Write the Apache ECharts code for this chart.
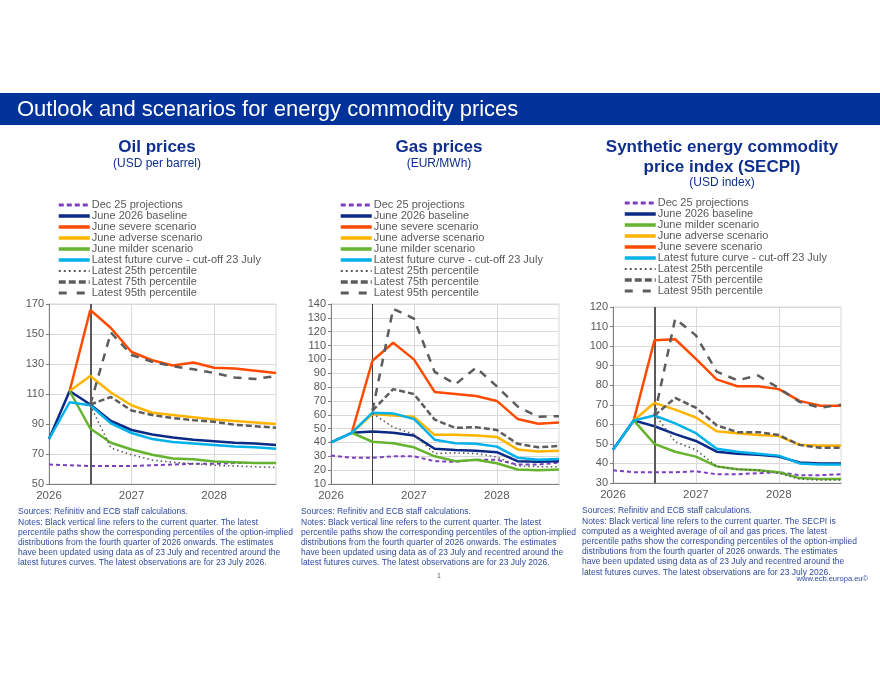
<!DOCTYPE html>
<html>
<head>
<meta charset="utf-8">
<script src="https://cdn.jsdelivr.net/npm/echarts@6/dist/echarts.min.js"></script>
<style>
  html, body { margin: 0; padding: 0; background: #fff; }
  #chart { width: 880px; height: 680px; }
</style>
</head>
<body>
<div id="chart"></div>
<script>
// quarterly points, 2026Q1 .. 2028Q4
const quarters = ['2026Q1', '2026Q2', '2026Q3', '2026Q4', '2027Q1', '2027Q2', '2027Q3', '2027Q4',
  '2028Q1', '2028Q2', '2028Q3', '2028Q4'];
const currentQuarter = '2026Q3';

// Oil prices (USD per barrel)
const oilDec25 = [63, 62.5, 62, 62, 62, 62.5, 63, 63.5, 63.5, 64, 64, 64];
const oilBase = [80, 112, 103, 92, 86, 83, 81, 79.5, 78.5, 77.5, 77, 76];
const oilSevere = [null, 112, 166, 154, 138, 132.5, 129, 131, 127.5, 127, 125.5, 124];
const oilAdverse = [null, 112, 122, 111, 102.5, 97.5, 96, 94.5, 93, 92, 91, 90];
const oilMilder = [null, 112, 87, 77.5, 73, 69.5, 67, 66.5, 65, 64.5, 64, 64];
const oilFuture = [80, 104.5, 102.5, 90.5, 84, 80, 78, 77, 76, 75, 74.5, 73.5];
const oilP25 = [null, null, 102.5, 74, 69.5, 66, 64.5, 63.5, 62.5, 62, 61.5, 61];
const oilP75 = [null, null, 103, 108, 99, 96, 94, 92.5, 91.5, 89.5, 88.5, 87.5];
const oilP95 = [null, null, 103, 151, 136, 131.5, 128.5, 126.5, 124, 121, 120, 122];

// Gas prices (EUR/MWh)
const gasDec25 = [30.5, 29, 29, 30, 30, 26.5, 26, 27.5, 27.5, 24, 24, 25.5];
const gasBase = [40, 47, 48, 47, 45, 35.5, 34.5, 34, 33, 26.5, 26, 26.5];
const gasSevere = [null, 47, 99, 112, 100, 76.5, 75, 73.5, 70, 57, 53.5, 54.5];
const gasAdverse = [null, 47, 60.5, 59.5, 58.5, 45.5, 45.5, 45, 44, 35, 33.5, 34];
const gasMilder = [null, 47, 40.5, 39.5, 36.5, 30, 26.5, 27.5, 25, 20.5, 20, 20.5];
const gasFuture = [40, 47, 61.5, 61, 57, 42, 39.5, 39, 37, 29, 27.5, 28];
const gasP25 = [null, null, 61, 51, 46, 32, 32.5, 32, 29.5, 23, 22.5, 22.5];
const gasP75 = [null, null, 63, 78.5, 75, 56.5, 50.5, 51, 49, 39, 36.5, 37.5];
const gasP95 = [null, null, 63, 136.5, 129.5, 91, 82, 94, 80.5, 66, 58.5, 59];

// SECPI (USD index)
const secDec25 = [36.5, 35.5, 35.5, 35.5, 36, 34.5, 34.5, 35, 35.5, 34, 34, 34.5];
const secBase = [47, 62, 59, 55, 51.5, 46, 45, 44.5, 43.5, 40.5, 40, 40];
const secSevere = [null, 62, 103, 103.5, 93.5, 83, 79.5, 79.5, 78, 72, 69.5, 69.5];
const secAdverse = [null, 62, 71, 67.5, 63.5, 56.5, 55.5, 54.5, 54, 49.5, 49, 49];
const secMilder = [null, 62, 50, 46, 43.5, 38.5, 37, 36.5, 35.5, 32.5, 32, 32];
const secFuture = [47, 62, 64.5, 60.5, 55.5, 47.5, 46, 45, 44, 40, 39.5, 39.5];
const secP25 = [null, null, 65.5, 51, 47, 38.5, 37, 36.5, 35, 32, 31.5, 31.5];
const secP75 = [null, null, 64.5, 73.5, 68.5, 59.5, 56, 56, 54.5, 49.5, 48, 48];
const secP95 = [null, null, 64.5, 114, 105.5, 87, 82.5, 85, 78.5, 71.5, 68.5, 70];

const N_DEC = 'Dec 25 projections';
const N_BASE = 'June 2026 baseline';
const N_SEV = 'June severe scenario';
const N_ADV = 'June adverse scenario';
const N_MILD = 'June milder scenario';
const N_FUT = 'Latest future curve - cut-off 23 July';
const N_P25 = 'Latest 25th percentile';
const N_P75 = 'Latest 75th percentile';
const N_P95 = 'Latest 95th percentile';

const styles = {};
styles[N_DEC] = { color: '#7b3fc0', width: 2, type: [4, 3], legendWidth: 3, legendType: [5, 3] };
styles[N_BASE] = { color: '#0b2a85', width: 2.5, type: 'solid', legendWidth: 3.5 };
styles[N_SEV] = { color: '#ff4b00', width: 2.5, type: 'solid', legendWidth: 3.5 };
styles[N_ADV] = { color: '#ffb400', width: 2.5, type: 'solid', legendWidth: 3.5 };
styles[N_MILD] = { color: '#65b32e', width: 2.5, type: 'solid', legendWidth: 3.5 };
styles[N_FUT] = { color: '#00b1ea', width: 2.5, type: 'solid', legendWidth: 3.5 };
styles[N_P25] = { color: '#5c5c5c', width: 1.6, type: [1.5, 3], legendWidth: 2, legendType: [2, 3] };
styles[N_P75] = { color: '#5c5c5c', width: 2.5, type: [6, 3], legendWidth: 3.5, legendType: [7, 3] };
styles[N_P95] = { color: '#5c5c5c', width: 2.5, type: [8, 7], legendWidth: 3, legendType: [8, 10] };

const FONT = '"Liberation Sans", Arial, sans-serif';
const GREY = '#595959';
const BLUE = '#0f2f8f';
const NOTE = '#2f4aa0';

const panels = [
  {
    grid: { left: 49, top: 304, width: 227, height: 180 },
    y: { min: 50, max: 170, interval: 20 },
    vline: { width: 2, color: '#5a5a5a' },
    legendPos: { left: 57, top: 199.5 },
    order: [N_DEC, N_BASE, N_SEV, N_ADV, N_MILD, N_FUT, N_P25, N_P75, N_P95],
    data: [
      [N_DEC, oilDec25], [N_BASE, oilBase], [N_SEV, oilSevere], [N_ADV, oilAdverse],
      [N_MILD, oilMilder], [N_FUT, oilFuture], [N_P25, oilP25], [N_P75, oilP75], [N_P95, oilP95]
    ]
  },
  {
    grid: { left: 331, top: 304, width: 228, height: 180 },
    y: { min: 10, max: 140, interval: 10 },
    vline: { width: 1, color: '#404040' },
    legendPos: { left: 339, top: 199.5 },
    order: [N_DEC, N_BASE, N_SEV, N_ADV, N_MILD, N_FUT, N_P25, N_P75, N_P95],
    data: [
      [N_DEC, gasDec25], [N_BASE, gasBase], [N_SEV, gasSevere], [N_ADV, gasAdverse],
      [N_MILD, gasMilder], [N_FUT, gasFuture], [N_P25, gasP25], [N_P75, gasP75], [N_P95, gasP95]
    ]
  },
  {
    grid: { left: 613, top: 307, width: 228, height: 176 },
    y: { min: 30, max: 120, interval: 10 },
    vline: { width: 2, color: '#5a5a5a' },
    legendPos: { left: 623, top: 197.5 },
    order: [N_DEC, N_BASE, N_MILD, N_ADV, N_SEV, N_FUT, N_P25, N_P75, N_P95],
    data: [
      [N_DEC, secDec25], [N_BASE, secBase], [N_SEV, secSevere], [N_ADV, secAdverse],
      [N_MILD, secMilder], [N_FUT, secFuture], [N_P25, secP25], [N_P75, secP75], [N_P95, secP95]
    ]
  }
];

const grids = [], xAxes = [], yAxes = [], legends = [], series = [];

panels.forEach((p, i) => {
  grids.push(Object.assign({ show: true, borderColor: '#d9d9d9', borderWidth: 1, backgroundColor: 'transparent' }, p.grid));
  xAxes.push({
    type: 'category', gridIndex: i, data: quarters, boundaryGap: false,
    axisLine: { lineStyle: { color: '#7f7f7f', width: 1 } },
    axisTick: { show: false },
    axisLabel: {
      interval: 3, color: GREY, fontSize: 11.5, fontFamily: FONT, margin: 6,
      formatter: v => v.slice(0, 4)
    },
    splitLine: { show: true, interval: 3, lineStyle: { color: '#d9d9d9', width: 1 } }
  });
  yAxes.push({
    type: 'value', gridIndex: i, min: p.y.min, max: p.y.max, interval: p.y.interval,
    axisLine: { show: true, lineStyle: { color: '#7f7f7f', width: 1 } },
    axisTick: { show: true, length: 3, lineStyle: { color: '#7f7f7f' } },
    axisLabel: { color: GREY, fontSize: 11, fontFamily: FONT, margin: 5 },
    splitLine: { show: true, lineStyle: { color: '#d9d9d9', width: 1 } }
  });
  legends.push({
    orient: 'vertical', left: p.legendPos.left, top: p.legendPos.top,
    itemWidth: 31, itemHeight: 11, itemGap: 0, padding: 0,
    data: p.order.map(n => ({
      name: n,
      lineStyle: { width: styles[n].legendWidth, type: styles[n].legendType || 'solid', color: styles[n].color }
    })),
    itemStyle: { opacity: 0 },
    textStyle: { color: GREY, fontSize: 11, fontFamily: FONT, lineHeight: 11, padding: [0, 0, 0, -3] },
    selectedMode: false
  });
  p.data.forEach(([name, values], k) => {
    const st = styles[name];
    const s = {
      name: name, type: 'line', xAxisIndex: i, yAxisIndex: i,
      data: values, symbol: 'none', connectNulls: false,
      lineStyle: { color: st.color, width: st.width, type: st.type },
      itemStyle: { color: st.color },
      z: 3 + k
    };
    if (k === 0) {
      s.markLine = {
        silent: true, symbol: 'none', animation: false,
        label: { show: false },
        lineStyle: { color: p.vline.color, width: p.vline.width, type: 'solid' },
        data: [{ xAxis: currentQuarter }]
      };
    }
    series.push(s);
  });
});

const notesCommon = [
  'Sources: Refinitiv and ECB staff calculations.',
  'Notes: Black vertical line refers to the current quarter. The latest',
  'percentile paths show the corresponding percentiles of the option-implied',
  'distributions from the fourth quarter of 2026 onwards. The estimates',
  'have been updated using data as of 23 July and recentred around the',
  'latest futures curves. The latest observations are for 23 July 2026.'
];
const notesSecpi = [
  'Sources: Refinitiv and ECB staff calculations.',
  'Notes: Black vertical line refers to the current quarter. The SECPI is',
  'computed as a weighted average of oil and gas prices. The latest',
  'percentile paths show the corresponding percentiles of the option-implied',
  'distributions from the fourth quarter of 2026 onwards. The estimates',
  'have been updated using data as of 23 July and recentred around the',
  'latest futures curves. The latest observations are for 23 July 2026.'
];

function txt(x, y, text, size, color, opts) {
  return {
    type: 'text', x: x, y: y, silent: true,
    style: Object.assign({
      text: text, fill: color, fontSize: size, fontFamily: FONT,
      textAlign: 'left', textVerticalAlign: 'middle'
    }, opts || {})
  };
}

const graphics = [
  { type: 'rect', silent: true, shape: { x: 0, y: 93, width: 880, height: 32 }, style: { fill: '#003299' } },
  txt(17, 109.5, 'Outlook and scenarios for energy commodity prices', 22, '#ffffff'),
  txt(157, 147, 'Oil prices', 17, BLUE, { textAlign: 'center', fontWeight: 'bold' }),
  txt(157, 164, '(USD per barrel)', 12, BLUE, { textAlign: 'center' }),
  txt(439, 147, 'Gas prices', 17, BLUE, { textAlign: 'center', fontWeight: 'bold' }),
  txt(439, 163.5, '(EUR/MWh)', 12, BLUE, { textAlign: 'center' }),
  txt(722, 147, 'Synthetic energy commodity', 17, BLUE, { textAlign: 'center', fontWeight: 'bold' }),
  txt(722, 167, 'price index (SECPI)', 17, BLUE, { textAlign: 'center', fontWeight: 'bold' }),
  txt(722, 182.5, '(USD index)', 12, BLUE, { textAlign: 'center' }),
  {
    type: 'text', left: 18, top: 507, silent: true,
    style: { text: notesCommon.join('\n'), fill: NOTE, fontSize: 8.5, fontFamily: FONT, lineHeight: 10.2 }
  },
  {
    type: 'text', left: 301, top: 507, silent: true,
    style: { text: notesCommon.join('\n'), fill: NOTE, fontSize: 8.5, fontFamily: FONT, lineHeight: 10.2 }
  },
  {
    type: 'text', left: 582, top: 506, silent: true,
    style: { text: notesSecpi.join('\n'), fill: NOTE, fontSize: 8.5, fontFamily: FONT, lineHeight: 10.2 }
  },
  txt(439, 576, '1', 7, GREY, { textAlign: 'center' }),
  txt(868, 579, 'www.ecb.europa.eu\u00a9', 7.5, NOTE, { textAlign: 'right' })
];

const chart = echarts.init(document.getElementById('chart'));
chart.setOption({
  animation: false,
  backgroundColor: '#ffffff',
  grid: grids,
  xAxis: xAxes,
  yAxis: yAxes,
  legend: legends,
  series: series,
  graphic: graphics
});
</script>
</body>
</html>
